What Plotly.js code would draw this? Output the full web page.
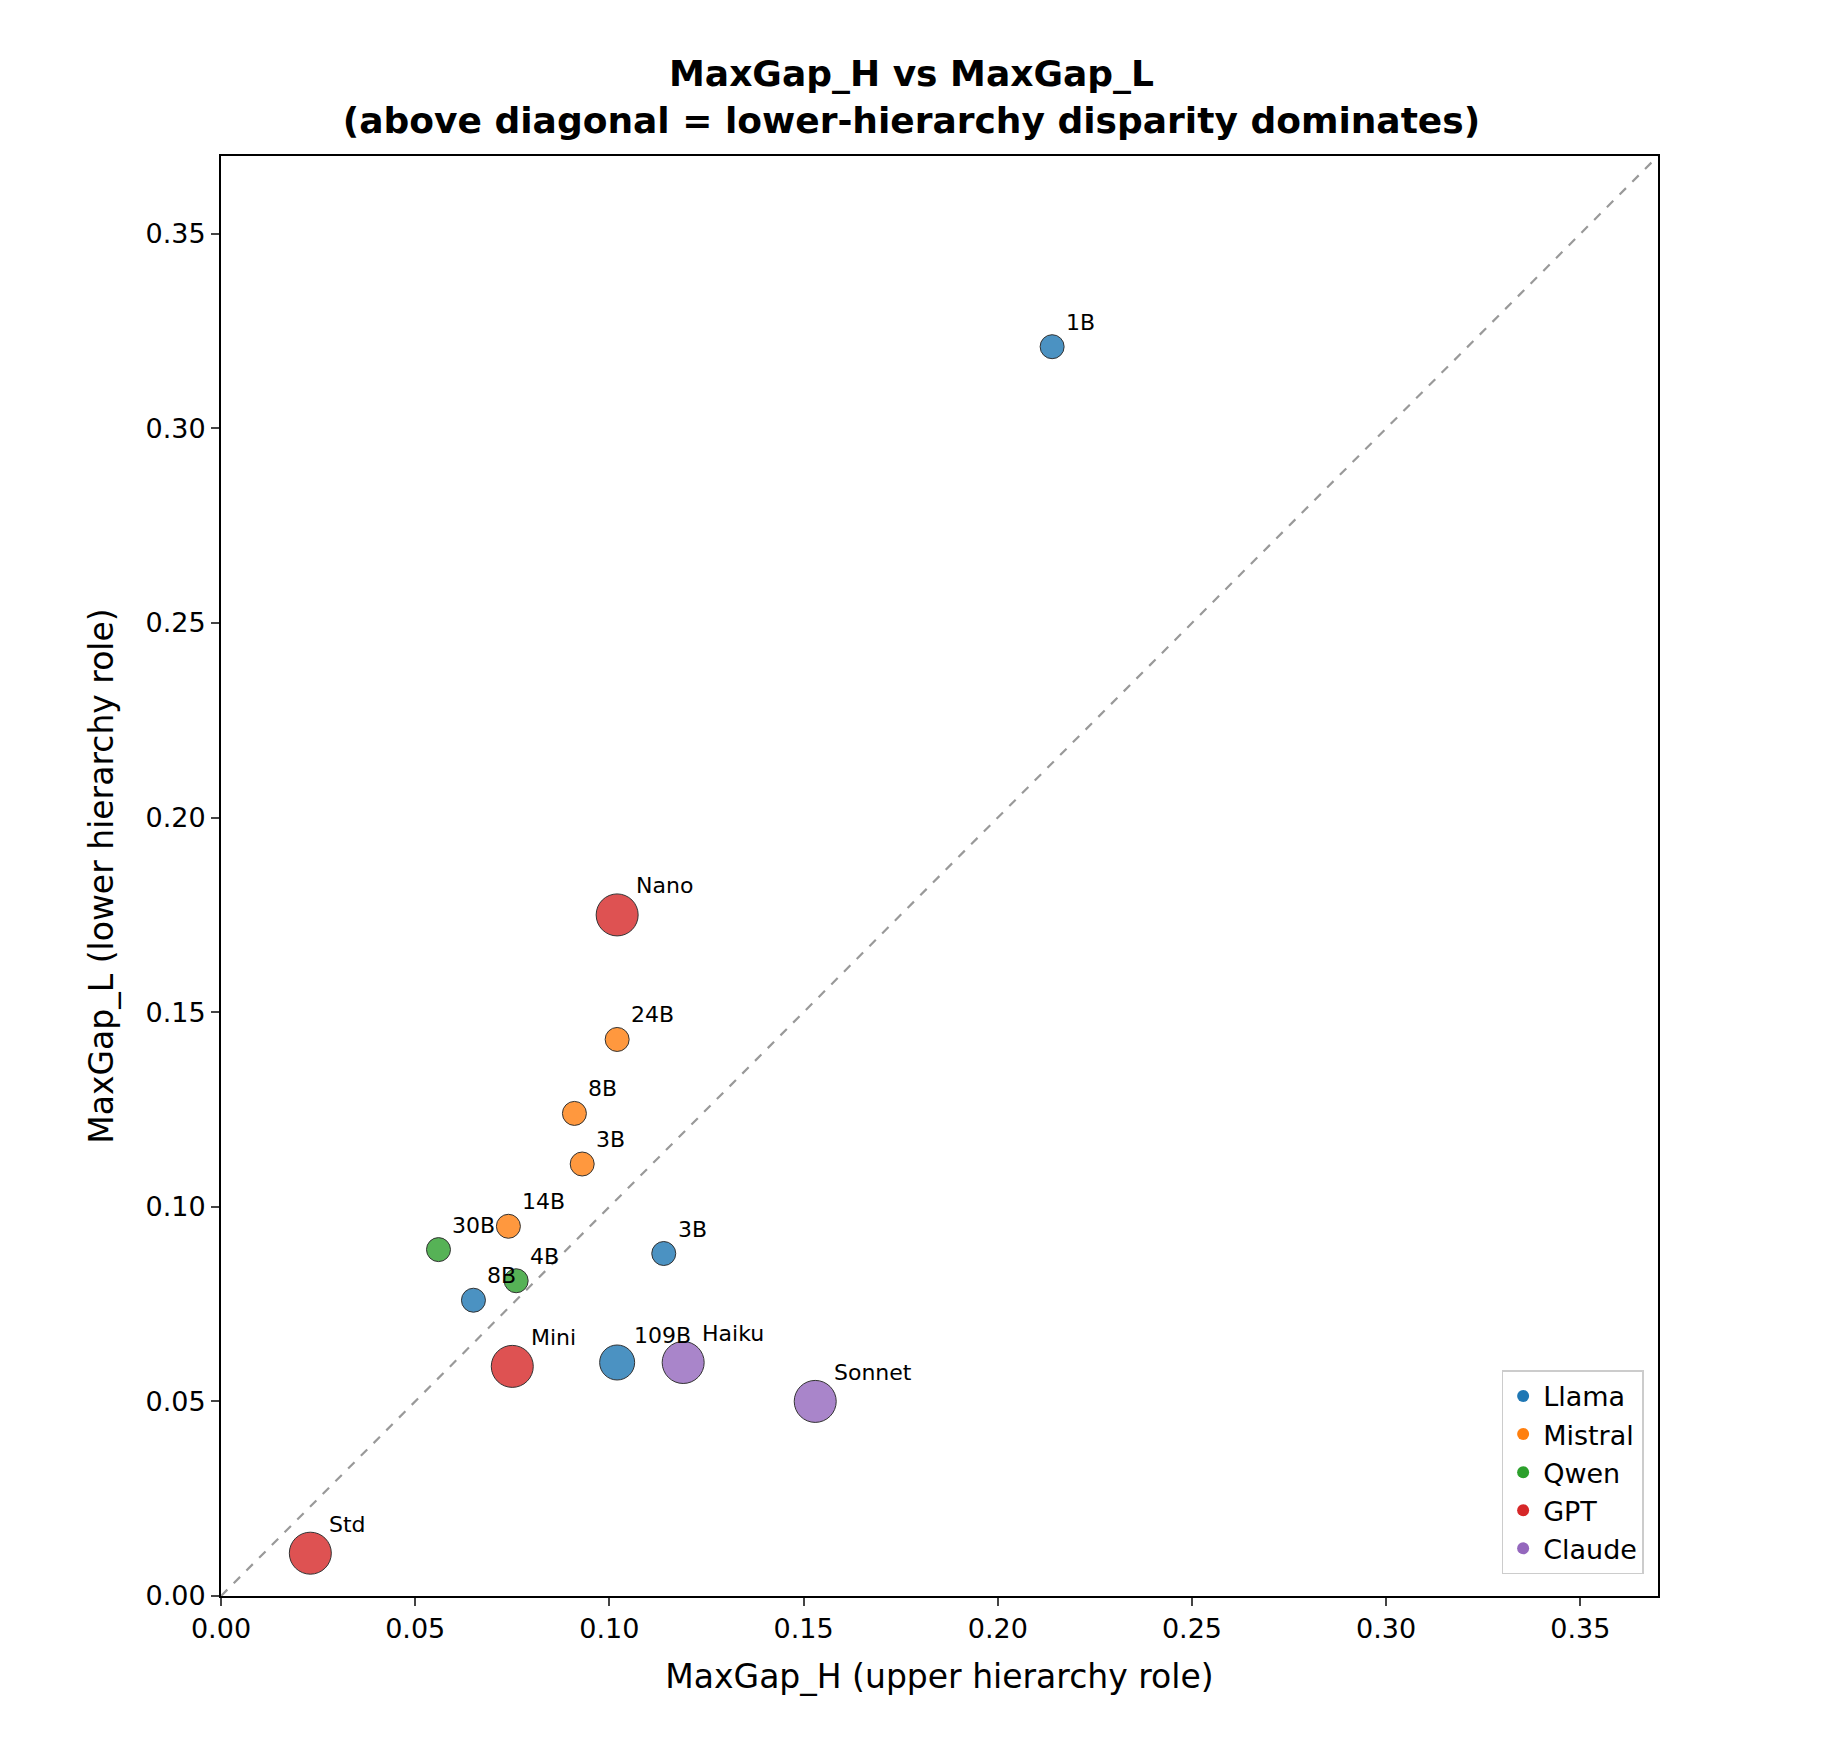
<!DOCTYPE html>
<html><head><script src="https://cdn.plot.ly/plotly-3.0.1.min.js"></script></head>
<body style="margin:0"><div id="c" style="width:1823px;height:1764px"></div>
<script>
const families = ["Llama","Mistral","Qwen","GPT","Claude"];
const colors = ["#1f77b4","#ff7f0e","#2ca02c","#d62728","#9467bd"];
const llamaLabels = ["1B","3B","8B","109B"];
const llamaH = [0.214,0.114,0.065,0.102];
const llamaL = [0.321,0.088,0.076,0.060];
const llamaSize = [24,24,24,35];
const mistralLabels = ["24B","8B","3B","14B"];
const mistralH = [0.102,0.091,0.093,0.074];
const mistralL = [0.143,0.124,0.111,0.095];
const mistralSize = [24,24,24,24];
const qwenLabels = ["30B","4B"];
const qwenH = [0.056,0.076];
const qwenL = [0.089,0.081];
const qwenSize = [24,24];
const gptLabels = ["Nano","Mini","Std"];
const gptH = [0.102,0.075,0.023];
const gptL = [0.175,0.059,0.011];
const gptSize = [42,42,42];
const claudeLabels = ["Haiku","Sonnet"];
const claudeH = [0.119,0.153];
const claudeL = [0.060,0.050];
const claudeSize = [42,42];

const groups = [
 [llamaLabels,llamaH,llamaL,llamaSize],
 [mistralLabels,mistralH,mistralL,mistralSize],
 [qwenLabels,qwenH,qwenL,qwenSize],
 [gptLabels,gptH,gptL,gptSize],
 [claudeLabels,claudeH,claudeL,claudeSize]];
const font = "DejaVu Sans";
const traces = [{x:[0,0.37],y:[0,0.37],mode:"lines",line:{color:"#999",dash:"dash",width:2.2},showlegend:false,hoverinfo:"skip"}];
const ann = [];
groups.forEach((g,i)=>{
  traces.push({x:g[1],y:g[2],mode:"markers",showlegend:false,
    marker:{size:g[3],color:colors[i],opacity:0.8,line:{color:"#000",width:1}}});
  traces.push({x:[null],y:[null],mode:"markers",name:families[i],marker:{size:22,color:colors[i]}});
  g[0].forEach((t,j)=>ann.push({x:g[1][j],y:g[2][j],text:t,showarrow:false,xanchor:"left",yanchor:"bottom",
    xshift:6+g[3][j]/4,yshift:4+g[3][j]/4,font:{family:font,size:22,color:"#000"}}));
});
const ax = {range:[0,0.37],tickvals:[0,0.05,0.1,0.15,0.2,0.25,0.3,0.35],ticktext:["0.00","0.05","0.10","0.15","0.20","0.25","0.30","0.35"],
  showgrid:false,zeroline:false,showline:true,mirror:true,linecolor:"#000",linewidth:1.8,ticks:"outside",ticklen:8,tickwidth:1.8,
  tickfont:{family:font,size:27,color:"#000"}};
Plotly.newPlot("c",traces,{
  width:1823,height:1764,margin:{l:221,r:165,t:156,b:168},
  paper_bgcolor:"#fff",plot_bgcolor:"#fff",
  title:{text:"<b>MaxGap_H vs MaxGap_L<br>(above diagonal = lower-hierarchy disparity dominates)</b>",x:0.5,xanchor:"center",yref:"container",y:0.951,yanchor:"middle",font:{family:font,size:36,color:"#000"}},
  xaxis:Object.assign({},ax,{title:{text:"MaxGap_H (upper hierarchy role)",font:{family:font,size:33,color:"#000"},standoff:22}}),
  yaxis:Object.assign({},ax,{title:{text:"MaxGap_L (lower hierarchy role)",font:{family:font,size:33,color:"#000"},standoff:22}}),
  legend:{x:0.99,y:0.015,xanchor:"right",yanchor:"bottom",bgcolor:"rgba(255,255,255,0.8)",bordercolor:"#ccc",borderwidth:1.5,
    font:{family:font,size:27,color:"#000"},tracegroupgap:14,itemsizing:"constant"},
  annotations:ann
},{displayModeBar:false});
</script></body></html>
